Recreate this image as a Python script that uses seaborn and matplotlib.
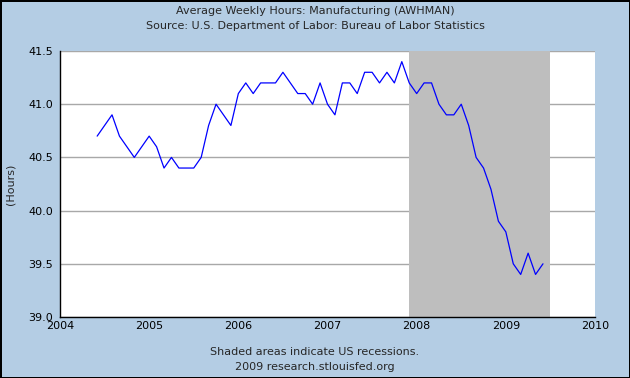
import pandas as pd
import matplotlib.pyplot as plt
import seaborn as sns

# Monthly average weekly hours, manufacturing (Jun 2004 - Jun 2009)
dates = pd.date_range("2004-06-01", "2009-06-01", freq="MS")
hours = [
    40.7, 40.8, 40.9, 40.7, 40.6, 40.5, 40.6,                               # 2004
    40.7, 40.6, 40.4, 40.5, 40.4, 40.4, 40.4, 40.5, 40.8, 41.0, 40.9, 40.8,  # 2005
    41.1, 41.2, 41.1, 41.2, 41.2, 41.2, 41.3, 41.2, 41.1, 41.1, 41.0, 41.2,  # 2006
    41.0, 40.9, 41.2, 41.2, 41.1, 41.3, 41.3, 41.2, 41.3, 41.2, 41.4, 41.2,  # 2007
    41.1, 41.2, 41.2, 41.0, 40.9, 40.9, 41.0, 40.8, 40.5, 40.4, 40.2, 39.9,  # 2008
    39.8, 39.5, 39.4, 39.6, 39.4, 39.5,                                     # 2009
]
recession = (2007 + 11 / 12, 2009.5)
x_ticks = [2004, 2005, 2006, 2007, 2008, 2009, 2010]
y_ticks = [39.0, 39.5, 40.0, 40.5, 41.0, 41.5]

df = pd.DataFrame({"date": dates, "hours": hours})
df["year"] = df["date"].dt.year + (df["date"].dt.month - 1) / 12

sns.set_style("white")
plt.rcParams["font.family"] = ["DejaVu Sans"]

bg = "#B4CDE4"
fig = plt.figure(figsize=(6.3, 3.78), dpi=100, facecolor=bg,
                 edgecolor="black", linewidth=1.0)
ax = fig.add_axes([60 / 630, 61 / 378, 535 / 630, 266 / 378])
ax.set_facecolor("white")

ax.set_axisbelow(True)
ax.grid(axis="y", color="#A8A8A8", linewidth=1.0)
ax.axvspan(*recession, color="#BEBEBE", zorder=1, linewidth=0)

sns.lineplot(data=df, x="year", y="hours", ax=ax, color="#0000FF",
             linewidth=0.9, zorder=3)

ax.set_xlim(2004, 2010)
ax.set_ylim(39.0, 41.5)
ax.set_xticks(x_ticks)
ax.set_xticklabels([str(t) for t in x_ticks])
ax.set_yticks(y_ticks)
ax.set_yticklabels([f"{t:.1f}" for t in y_ticks])
ax.tick_params(direction="in", length=5, width=1, colors="black", labelsize=8)
ax.tick_params(axis="x", pad=3)
ax.tick_params(axis="y", pad=5)
ax.set_xlabel("")
ax.set_ylabel("(Hours)", fontsize=8, labelpad=9)

for side in ["top", "right"]:
    ax.spines[side].set_visible(False)
for side in ["left", "bottom"]:
    ax.spines[side].set_color("black")
    ax.spines[side].set_linewidth(1.0)

fig.text(0.5, 1 - 11 / 378, "Average Weekly Hours: Manufacturing (AWHMAN)",
         ha="center", va="center", fontsize=8)
fig.text(0.5, 1 - 26 / 378, "Source: U.S. Department of Labor: Bureau of Labor Statistics",
         ha="center", va="center", fontsize=8)
fig.text(0.5, 1 - 352 / 378, "Shaded areas indicate US recessions.",
         ha="center", va="center", fontsize=8)
fig.text(0.5, 1 - 367 / 378, "2009 research.stlouisfed.org",
         ha="center", va="center", fontsize=8)

fig.savefig("out.png", dpi=100, facecolor=bg)
